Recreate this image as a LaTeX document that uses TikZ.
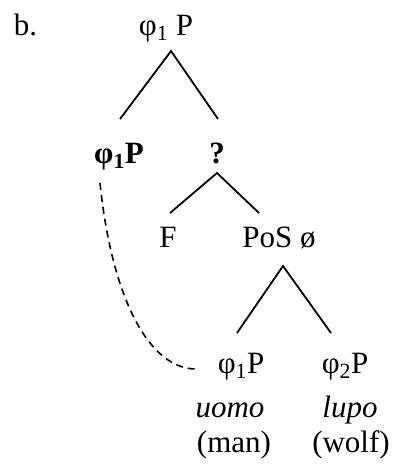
\documentclass[tikz,border=0pt]{standalone}
\usepackage{fontspec}
\setmainfont{Liberation Serif}
\begin{document}
\begin{tikzpicture}[x=1pt, y=-1pt, line width=1.8pt,
  font=\fontsize{31}{37}\selectfont,
  every node/.style={inner sep=0pt, anchor=base}]
  \useasboundingbox (0,0) rectangle (393,464);

  % 标签与根节点
  \node[anchor=base west] (lbl) at (13,35) {b.};
  \node (top) at (166,35) {φ\textsubscript{1} P};

  % 第二层
  \node (spec) at (119,163) {\bfseries φ\textsubscript{1}P};
  \node (bar)  at (217,163) {\bfseries ?};

  % 第三层
  \node (f)   at (168,247) {F};
  \node (pos) at (279,247) {PoS ø};

  % 底层：两个 φP 及词语
  \node (phione) at (241,373) {φ\textsubscript{1}P};
  \node (phitwo) at (345,373) {φ\textsubscript{2}P};
  \node (uomo) at (230,417) {\itshape uomo};
  \node (lupo) at (350,417) {\itshape lupo};
  \node (man)  at (234,452) {(man)};
  \node (wolf) at (351,452) {(wolf)};

  % 树枝
  \draw ([xshift=1pt,yshift=44pt]spec.base) -- ([xshift=5pt,yshift=-16pt]top.base)
        -- ([xshift=1pt,yshift=44pt]bar.base);
  \draw ([xshift=2pt,yshift=34pt]f.base) -- ([yshift=-10pt]bar.base)
        -- ([xshift=-20pt,yshift=34pt]pos.base);
  \draw ([xshift=-4pt,yshift=40pt]phione.base) -- ([xshift=4pt,yshift=-19pt]pos.base)
        -- ([xshift=-14pt,yshift=40pt]phitwo.base);

  % 虚线（移位）
  \draw[dash pattern=on 7pt off 5pt, line width=1.6pt]
    ([xshift=-19pt,yshift=-20pt]spec.base)
    .. controls (112,300) and (150,370) .. ([xshift=-44pt,yshift=4pt]phione.base);
\end{tikzpicture}
\end{document}
